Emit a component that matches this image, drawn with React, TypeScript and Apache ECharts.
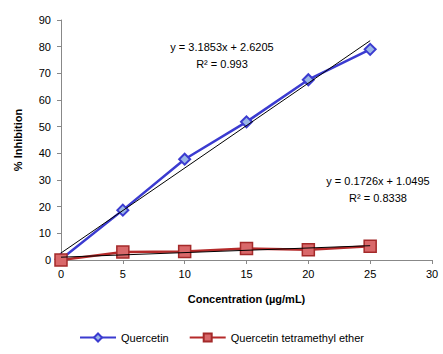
import React, { useEffect, useRef } from "react";
import * as echarts from "echarts";

const concentrations = [0, 5, 10, 15, 20, 25];
const quercetin = [0.3, 18.7, 37.8, 51.8, 67.6, 79.0];
const tetramethyl = [0, 3.0, 3.2, 4.3, 3.8, 5.2];
const seriesNames = ["Quercetin", "Quercetin tetramethyl ether"];
const fit1 = { slope: 3.1853, intercept: 2.6205, r2: "0.993" };
const fit2 = { slope: 0.1726, intercept: 1.0495, r2: "0.8338" };

const FONT = "'Liberation Sans', Arial, sans-serif";

export default function App() {
  const ref = useRef<HTMLDivElement>(null);
  useEffect(() => {
    if (!ref.current) return;
    const chart = echarts.init(ref.current, undefined, { renderer: "svg" });
    const x0 = concentrations[0];
    const x1 = concentrations[concentrations.length - 1];
    const trend = (f: { slope: number; intercept: number }) => [
      [x0, f.slope * x0 + f.intercept],
      [x1, f.slope * x1 + f.intercept],
    ];
    chart.setOption({
      animation: false,
      backgroundColor: "#fff",
      textStyle: { fontFamily: FONT },
      grid: { left: 61, right: 11, top: 20, bottom: 94, containLabel: false },
      xAxis: {
        type: "value",
        min: 0,
        max: 30,
        interval: 5,
        name: "Concentration (µg/mL)",
        nameLocation: "middle",
        nameGap: 33,
        nameTextStyle: { fontSize: 11, color: "#000", fontWeight: "bold", fontFamily: FONT },
        axisLine: { lineStyle: { color: "#888", width: 1 } },
        axisTick: { show: true, inside: false, length: 4, lineStyle: { color: "#888" } },
        axisLabel: { fontSize: 11, color: "#000", fontFamily: FONT, margin: 8 },
        splitLine: { show: false },
      },
      yAxis: {
        type: "value",
        min: 0,
        max: 90,
        interval: 10,
        name: "% Inhibition",
        nameLocation: "middle",
        nameGap: 38,
        nameRotate: 90,
        nameTextStyle: { fontSize: 11, color: "#000", fontWeight: "bold", fontFamily: FONT },
        axisLine: { show: true, lineStyle: { color: "#888", width: 1 } },
        axisTick: { show: true, length: 4, lineStyle: { color: "#888" } },
        axisLabel: { fontSize: 11, color: "#000", fontFamily: FONT, margin: 10 },
        splitLine: { show: false },
      },
      legend: {
        bottom: 6,
        left: "center",
        itemGap: 20,
        itemWidth: 36,
        itemHeight: 10,
        data: seriesNames,
        textStyle: { fontSize: 11, color: "#000", fontFamily: FONT },
      },
      series: [
        {
          name: seriesNames[0],
          type: "line",
          data: concentrations.map((c, i) => [c, quercetin[i]]),
          symbol: "diamond",
          symbolSize: 11,
          lineStyle: { color: "#3b3bd0", width: 2.5 },
          itemStyle: { color: "#9ab6e6", borderColor: "#3b3bd0", borderWidth: 2 },
          z: 3,
        },
        {
          name: seriesNames[1],
          type: "line",
          data: concentrations.map((c, i) => [c, tetramethyl[i]]),
          symbol: "rect",
          symbolSize: 12,
          lineStyle: { color: "#b52a2a", width: 2.5 },
          itemStyle: { color: "#d9686a", borderColor: "#a42a2a", borderWidth: 1.5 },
          z: 3,
        },
        {
          name: "trend1",
          type: "line",
          data: trend(fit1),
          symbol: "none",
          lineStyle: { color: "#000", width: 1 },
          silent: true,
          z: 4,
        },
        {
          name: "trend2",
          type: "line",
          data: trend(fit2),
          symbol: "none",
          lineStyle: { color: "#000", width: 1 },
          silent: true,
          z: 4,
        },
      ],
      graphic: [
        {
          type: "text",
          x: 222,
          y: 55,
          style: {
            text: `y = ${fit1.slope}x + ${fit1.intercept}\nR² = ${fit1.r2}`,
            align: "center",
            verticalAlign: "middle",
            fontSize: 11,
            lineHeight: 17,
            fill: "#000",
            fontFamily: FONT,
          },
        },
        {
          type: "text",
          x: 378,
          y: 189,
          style: {
            text: `y = ${fit2.slope}x + ${fit2.intercept}\nR² = ${fit2.r2}`,
            align: "center",
            verticalAlign: "middle",
            fontSize: 11,
            lineHeight: 17,
            fill: "#000",
            fontFamily: FONT,
          },
        },
      ],
    });
    return () => chart.dispose();
  }, []);
  return (
    <div
      ref={ref}
      style={{ position: "fixed", left: 0, top: 0, width: 443, height: 354 }}
    />
  );
}
